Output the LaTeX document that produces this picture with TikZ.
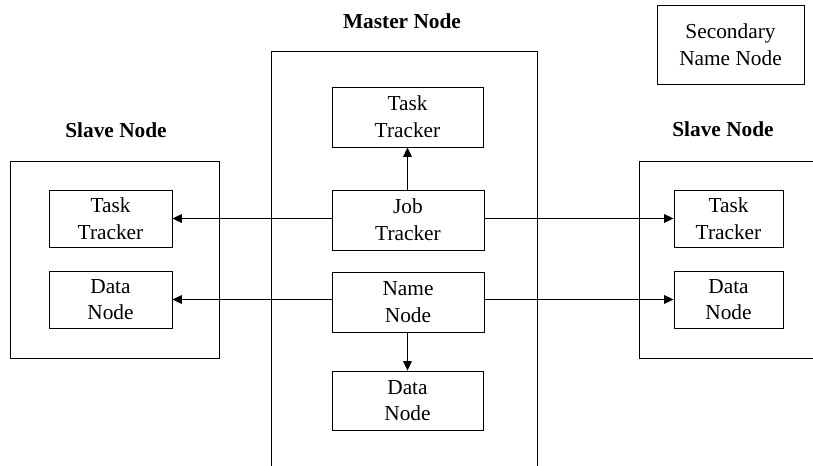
\documentclass[tikz,border=0pt]{standalone}
\usepackage{fontspec}
\setmainfont{Liberation Serif}
\usetikzlibrary{arrows.meta}
\begin{document}
\begin{tikzpicture}
  [x=0.75pt,y=-0.75pt,every node/.style={inner sep=0pt,align=center,font=\fontsize{16}{20}\selectfont}]
  \tikzstyle{part} = [draw,line width=0.7pt,shape=rectangle]
  \tikzstyle{title} = [font=\fontsize{16}{20}\selectfont\bfseries]
  \tikzstyle{link} = [line width=0.7pt,-{Triangle[length=7pt,width=6.5pt]}]
  \useasboundingbox (0,0) rectangle (813,465);
  \clip (0,0) rectangle (813,465);
  % containers
  \node[part,minimum width=199.5pt,minimum height=336.75pt] (master) at (404,275.5) {};
  \node[part,minimum width=156.75pt,minimum height=147.75pt] (lslave) at (114.5,259.5) {};
  \node[part,minimum width=143.25pt,minimum height=147.75pt] (rslave) at (734.5,259.5) {};
  \node[title] (mtitle) at (402,21) {Master Node};
  \node[title] (ltitle) at (116,130) {Slave Node};
  \node[title] (rtitle) at (723,129) {Slave Node};
  % master node parts
  \node[part,minimum width=113.25pt,minimum height=45pt] (mtask) at (407.5,117) {Task\\Tracker};
  \node[part,minimum width=114pt,minimum height=45pt] (job) at (408,220) {Job\\Tracker};
  \node[part,minimum width=114pt,minimum height=45pt] (name) at (408,302) {Name\\Node};
  \node[part,minimum width=113.25pt,minimum height=44.25pt] (mdata) at (407.5,400.5) {Data\\Node};
  % slave node parts
  \node[part,minimum width=92.25pt,minimum height=42.75pt] (ltask) at (110.5,218.5) {Task\\Tracker};
  \node[part,minimum width=92.25pt,minimum height=42.75pt] (ldata) at (110.5,299.5) {Data\\Node};
  \node[part,minimum width=81.75pt,minimum height=42.75pt] (rtask) at (728.5,218.5) {Task\\Tracker};
  \node[part,minimum width=81.75pt,minimum height=42.75pt] (rdata) at (728.5,299.5) {Data\\Node};
  \node[part,minimum width=110.25pt,minimum height=59.25pt] (sec) at (730.5,44.5) {Secondary\\Name Node};
\foreach \source /\dest in {job.west/ltask.east,name.west/ldata.east,job.east/rtask.west,name.east/rdata.west}
   \draw[link] (\dest -| \source) -- (\dest);
\foreach \source /\dest in {job.north/mtask.south,name.south/mdata.north}
   \draw[link] (\dest |- \source) -- (\dest);

\end{tikzpicture}
\end{document}
